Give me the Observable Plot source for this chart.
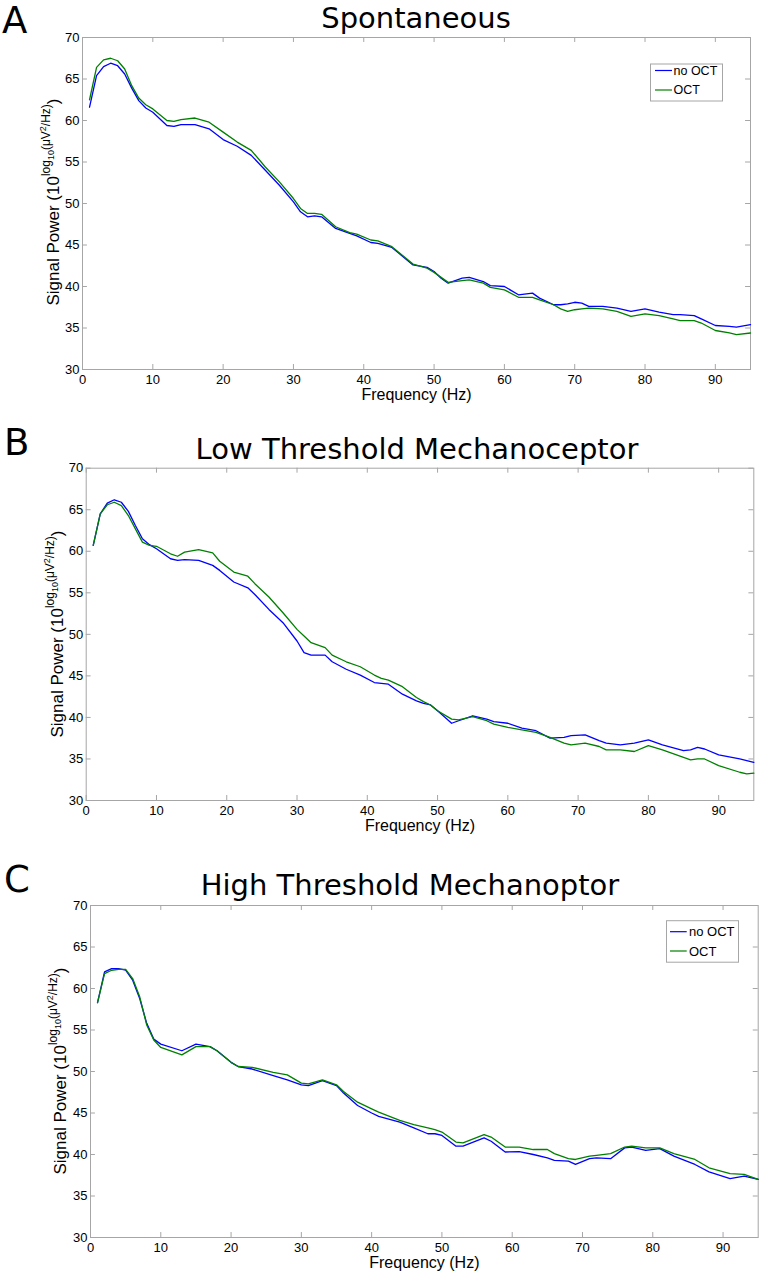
<!DOCTYPE html>
<html><head><meta charset="utf-8">
<script src="https://cdn.jsdelivr.net/npm/d3@7"></script>
<script src="https://cdn.jsdelivr.net/npm/@observablehq/plot@0.6"></script>
<style>
body{margin:0;background:#fff;}
#wrap{position:relative;width:759px;height:1271px;overflow:hidden;background:#fff;}
#wrap svg{position:absolute;left:0;}
</style></head><body><div id="wrap"></div>
<script>
// ---- data ----
const seriesNames = ["no OCT", "OCT"];
const panelTitles = ["Spontaneous", "Low Threshold Mechanoceptor", "High Threshold Mechanoptor"];
const panelLetters = ["A", "B", "C"];
const xTicks = [0, 10, 20, 30, 40, 50, 60, 70, 80, 90];
const yTicks = [30, 35, 40, 45, 50, 55, 60, 65, 70];

const freqA = [1,2,3,4,5,6,7,8,9,10,12,13,14,16,18,20,22,24,26,28,30,31,32,33,34,36,38,39,41,42,44,45,47,49,50,51,52,54,55,57,58,60,62,64,65,67,68,69,70,71,72,74,76,78,80,82,84,85,87,88,90,92,93,95];
const noOctA = [61.6,65.4,66.5,66.9,66.6,65.6,63.9,62.4,61.5,61.0,59.4,59.3,59.5,59.5,59.0,57.7,56.9,55.8,54.0,52.2,50.2,49.0,48.4,48.5,48.4,47.0,46.4,46.1,45.3,45.2,44.7,44.0,42.6,42.3,41.8,41.0,40.4,41.0,41.1,40.6,40.1,40.0,39.0,39.2,38.6,37.8,37.8,37.9,38.1,38.0,37.6,37.6,37.4,37.0,37.3,36.9,36.6,36.6,36.5,36.1,35.3,35.2,35.1,35.4];
const octA   = [62.5,66.4,67.3,67.5,67.2,66.2,64.2,62.7,61.9,61.4,60.0,59.9,60.1,60.3,59.8,58.6,57.4,56.4,54.4,52.6,50.6,49.4,48.8,48.8,48.7,47.2,46.5,46.3,45.6,45.5,44.8,44.1,42.7,42.2,41.7,41.1,40.5,40.7,40.8,40.4,39.9,39.6,38.7,38.7,38.4,37.8,37.3,37.0,37.2,37.3,37.4,37.3,37.0,36.4,36.7,36.5,36.1,35.9,35.9,35.6,34.7,34.4,34.2,34.4];

const freqB = [1,2,3,4,5,6,7,8,9,10,12,13,14,16,18,19,21,23,24,26,28,30,31,32,34,35,37,39,41,42,43,45,47,48,49,50,52,53,55,57,58,60,62,64,66,68,69,71,73,74,76,78,80,82,85,86,87,88,90,93,94,95];
const noOctB = [60.7,64.5,65.8,66.2,65.9,64.8,63.1,61.5,60.8,60.3,59.1,58.9,59.0,58.9,58.3,57.7,56.3,55.6,54.8,53.0,51.4,49.2,47.8,47.5,47.5,46.7,45.8,45.1,44.2,44.1,44.0,42.8,42.0,41.7,41.5,40.8,39.3,39.6,40.2,39.8,39.5,39.3,38.7,38.4,37.5,37.6,37.8,37.9,37.2,36.9,36.7,36.9,37.3,36.7,36.0,36.1,36.4,36.2,35.5,35.0,34.8,34.6];
const octB   = [60.7,64.5,65.6,65.9,65.5,64.3,62.7,61.1,60.7,60.6,59.7,59.4,59.9,60.2,59.8,58.8,57.5,57.0,56.1,54.5,52.6,50.6,49.8,49.0,48.4,47.5,46.7,46.1,45.1,44.7,44.5,43.7,42.4,41.9,41.5,40.8,39.8,39.7,40.1,39.6,39.2,38.8,38.5,38.2,37.6,36.9,36.7,36.9,36.5,36.1,36.1,35.9,36.6,36.1,35.2,34.9,35.0,35.0,34.2,33.4,33.2,33.3];

const freqC = [1,2,3,4,5,6,7,8,9,10,13,15,17,18,20,21,23,26,28,30,31,33,35,36,38,40,41,44,46,48,49,50,52,53,56,57,59,61,63,65,66,68,69,71,72,74,76,77,79,81,83,86,88,91,93,95];
const noOctC = [58.3,62.0,62.4,62.4,62.2,61.0,58.8,55.8,53.9,53.3,52.5,53.3,53.0,52.5,51.1,50.6,50.3,49.5,49.0,48.4,48.3,48.9,48.3,47.4,45.9,45.0,44.6,43.9,43.2,42.5,42.5,42.3,41.0,41.0,42.0,41.6,40.3,40.35,40.0,39.6,39.3,39.2,38.8,39.5,39.6,39.5,40.8,40.9,40.5,40.7,39.8,38.8,37.9,37.1,37.4,37.0];
const octC   = [58.3,61.8,62.2,62.3,62.3,61.2,59.0,55.6,53.8,52.9,52.0,53.0,53.0,52.5,51.1,50.6,50.5,49.9,49.6,48.6,48.5,49.0,48.4,47.6,46.3,45.5,45.1,44.1,43.6,43.2,43.0,42.7,41.5,41.4,42.4,42.1,40.9,40.9,40.6,40.6,40.1,39.5,39.4,39.8,39.9,40.1,40.9,41.0,40.8,40.8,40.1,39.4,38.4,37.7,37.6,37.0];

// ---- layout ----
const GRAY = "#a6a6a6";
const SANS = "'Liberation Sans', Arial, Helvetica, sans-serif";
const DEJA = "'DejaVu Sans', sans-serif";
const panels = [
  {freq: freqA, noOct: noOctA, oct: octA, top: 0,   height: 410, mt: 37,   mb: 41, ml: 82,   mr: 9,
   title: panelTitles[0], letter: panelLetters[0], tx: 416, ty: 28, lx: 2, ly: 33, yx: 59, yy: 202,
   legend: {x: 650.5, y: 64, w: 72, h: 37, r1: 70.5, r2: 90, lx1: 655, lx2: 672, tx: 673.5, fs: 12.5}},
  {freq: freqB, noOct: noOctB, oct: octB, top: 410, height: 430, mt: 57.7, mb: 40, ml: 85.7, mr: 5.7,
   title: panelTitles[1], letter: panelLetters[1], tx: 417, ty: 49, lx: 4, ly: 45, yx: 63, yy: 224,
   legend: null},
  {freq: freqC, noOct: noOctC, oct: octC, top: 840, height: 431, mt: 65,   mb: 34, ml: 90,   mr: 1.3,
   title: panelTitles[2], letter: panelLetters[2], tx: 410, ty: 55, lx: 4, ly: 52, yx: 66, yy: 231,
   legend: {x: 666.5, y: 80.7, w: 72, h: 41.5, r1: 91.7, r2: 111, lx1: 670, lx2: 686.7, tx: 689, fs: 13}}
];

const wrap = document.getElementById("wrap");

for (const p of panels) {
  const rows = [];
  p.freq.forEach((f, i) => {
    rows.push({f, v: p.noOct[i], s: seriesNames[0]});
  });
  p.freq.forEach((f, i) => {
    rows.push({f, v: p.oct[i], s: seriesNames[1]});
  });
  const chart = Plot.plot({
    width: 759, height: p.height,
    marginTop: p.mt, marginBottom: p.mb, marginLeft: p.ml, marginRight: p.mr,
    style: {fontFamily: SANS, fontSize: "13px", color: "#000", background: "transparent", overflow: "visible"},
    x: {domain: [0, 95]},
    y: {domain: [30, 70]},
    color: {domain: seriesNames, range: ["#0000ff", "#008000"]},
    marks: [
      Plot.ruleX(xTicks, {x: d => d, y1: 30, y2: 30.6, stroke: GRAY}),
      Plot.ruleX(xTicks, {x: d => d, y1: 69.4, y2: 70, stroke: GRAY}),
      Plot.ruleY(yTicks, {y: d => d, x1: 0, x2: 0.7, stroke: GRAY}),
      Plot.ruleY(yTicks, {y: d => d, x1: 94.3, x2: 95, stroke: GRAY}),
      Plot.frame({stroke: GRAY}),
      Plot.axisX(xTicks, {tickSize: 0, tickPadding: 5, label: null, fontSize: 13}),
      Plot.axisY(yTicks, {tickSize: 0, tickPadding: 3, label: null, fontSize: 13}),
      Plot.line(rows, {x: "f", y: "v", z: "s", stroke: "s", strokeWidth: 1.3}),
      Plot.text(["Frequency (Hz)"], {frameAnchor: "bottom", lineAnchor: "bottom", dy: 30, fontSize: 16, fill: "#000"})
    ]
  });
  chart.style.top = p.top + "px";
  wrap.appendChild(chart);
  const svg = d3.select(chart);

  // panel letter & title
  svg.append("text").attr("x", p.lx).attr("y", p.ly).attr("text-anchor", "start")
    .style("font-family", DEJA).style("font-size", "37px").attr("fill", "#000").text(p.letter);
  svg.append("text").attr("x", p.tx).attr("y", p.ty).attr("text-anchor", "middle")
    .style("font-family", DEJA).style("font-size", "29px").attr("fill", "#000").text(p.title);

  // y-axis label with nested superscripts
  const t = svg.append("text")
    .attr("transform", `translate(${p.yx},${p.yy}) rotate(-90)`)
    .attr("text-anchor", "middle").attr("fill", "#000")
    .style("font-family", SANS).style("font-size", "17px");
  t.append("tspan").text("Signal Power (10");
  t.append("tspan").attr("dy", -9).style("font-size", "12px").text("log");
  t.append("tspan").attr("dy", 4).style("font-size", "9px").text("10");
  t.append("tspan").attr("dy", -4).style("font-size", "12px").text("(\u03bcV");
  t.append("tspan").attr("dy", -4).style("font-size", "9px").text("2");
  t.append("tspan").attr("dy", 4).style("font-size", "12px").text("/Hz)");
  t.append("tspan").attr("dy", 9).text(")");

  // legend
  if (p.legend) {
    const L = p.legend;
    const g = svg.append("g");
    g.append("rect").attr("x", L.x).attr("y", L.y).attr("width", L.w).attr("height", L.h)
      .attr("fill", "#fff").attr("stroke", GRAY);
    const cols = ["#0000ff", "#008000"];
    [L.r1, L.r2].forEach((ry, i) => {
      g.append("line").attr("x1", L.lx1).attr("x2", L.lx2).attr("y1", ry).attr("y2", ry)
        .attr("stroke", cols[i]).attr("stroke-width", 1.2);
      g.append("text").attr("x", L.tx).attr("y", ry).attr("dy", "0.35em").attr("text-anchor", "start")
        .style("font-family", SANS).style("font-size", L.fs + "px").attr("fill", "#000").text(seriesNames[i]);
    });
  }
}
</script></body></html>
